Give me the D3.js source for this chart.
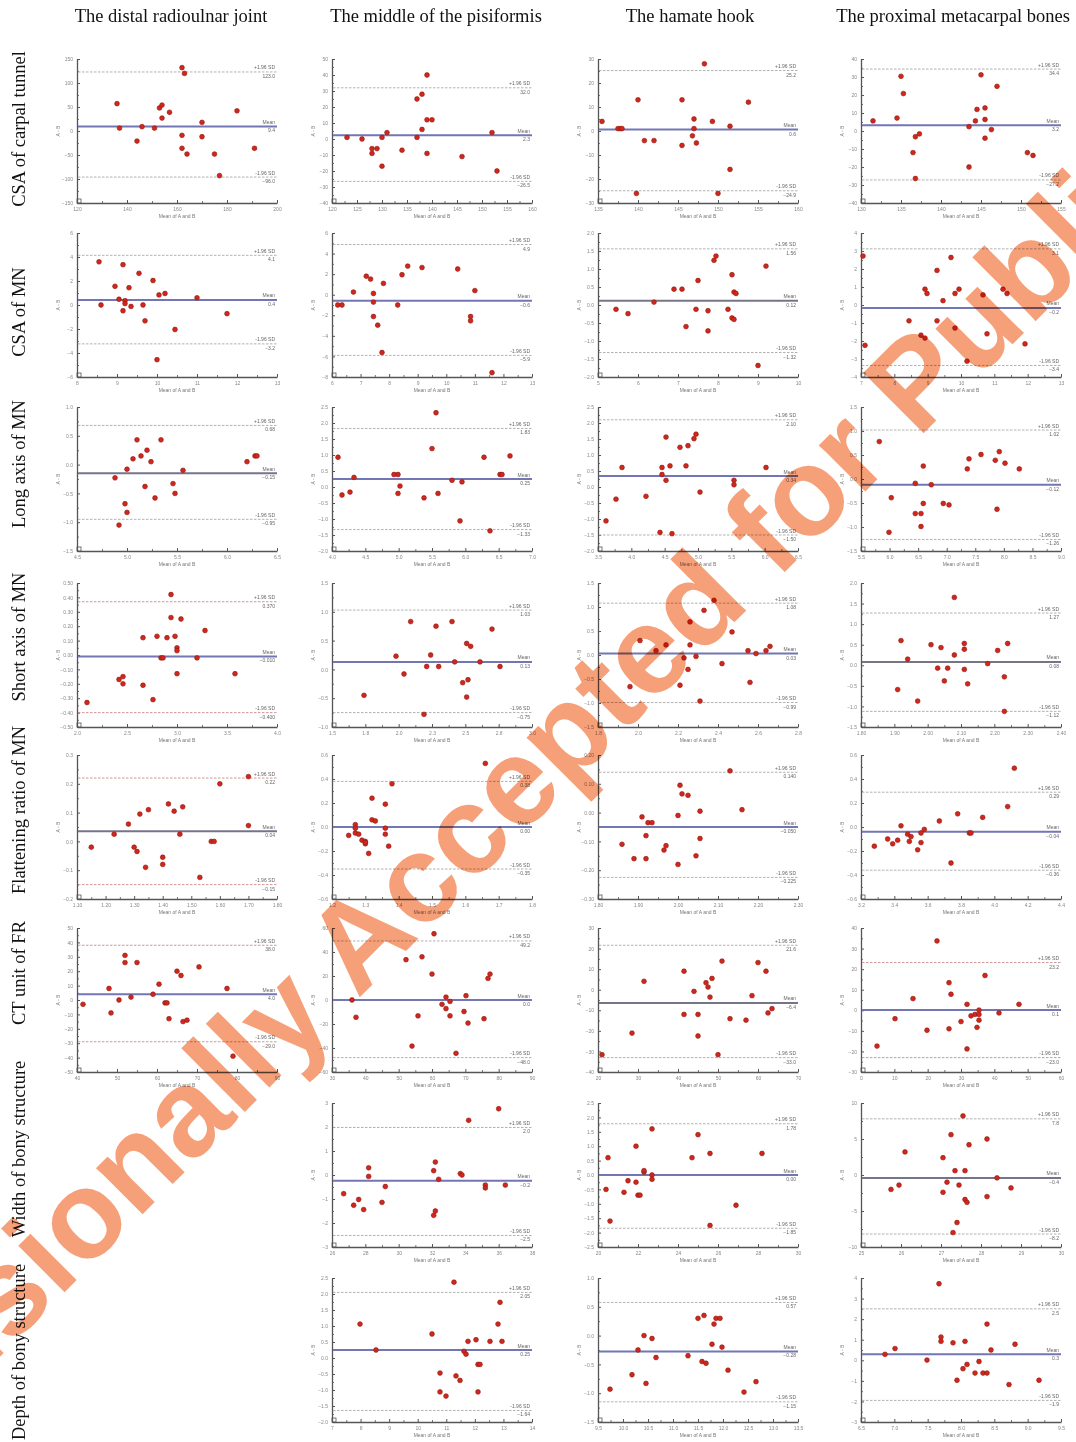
<!DOCTYPE html>
<html>
<head>
<meta charset="utf-8">
<script src="https://cdn.jsdelivr.net/npm/d3@7"></script>
<style>
body { margin: 0; background: #fff; }
svg { display: block; }
.ax text { font-family: "Liberation Sans", Arial, sans-serif; font-size: 5px; fill: #888; }
.ax path, .ax line { stroke: #555; }
.minor line { stroke: #777; }
</style>
</head>
<body>
<div id="fig"></div>
<script>
// column / row headings
var colTitles = ["The distal radioulnar joint", "The middle of the pisiformis", "The hamate hook", "The proximal metacarpal bones"];
var rowLabels = ["CSA of carpal tunnel", "CSA of MN", "Long axis of MN", "Short axis of MN",
    "Flattening ratio of MN", "CT unit of FR", "Width of bony structure", "Depth of bony structure"];

// Bland-Altman points: [mean of A and B, A - B]; limits: [+1.96 SD, mean, -1.96 SD]
var ct_druj = [[136,57],[137,6],[144,-21],[146,9],[151,6],[153,48],[154,54],[154,27],[157,39],[162,132],[163,120],[162,-9],[162,-36],[164,-48],[170,18],[170,-12],[175,-48],[177,-93],[184,42],[191,-36]],
    ct_druj_xt = [120,140,160,180,200], ct_druj_yt = [-150,-100,-50,0,50,100,150], ct_druj_loa = [123,9.4,-96];
var ct_pis = [[123,1],[126,0],[128,-6],[128,-9],[129,-6],[130,1],[130,-17],[131,4],[134,-7],[137,1],[137,25],[138,6],[138,28],[139,40],[139,12],[140,12],[139,-9],[146,-11],[152,4],[153,-20]],
    ct_pis_xt = [120,125,130,135,140,145,150,155,160], ct_pis_yt = [-40,-30,-20,-10,0,10,20,30,40,50], ct_pis_loa = [32,2.3,-26.5];
var ct_ham = [[135.5,4],[137.5,1],[137.8,1],[138,1],[140,13],[140.8,-4],[142,-4],[139.8,-26],[145.5,13],[145.5,-6],[147,5],[147,1],[146.8,-2],[147.3,-5],[148.3,28],[149.3,4],[150,-26],[151.5,2],[151.5,-16],[153.8,12]],
    ct_ham_xt = [135,140,145,150,155,160], ct_ham_yt = [-30,-20,-10,0,10,20,30], ct_ham_loa = [25.2,0.6,-24.9];
var ct_met = [[131.5,5.6],[134.5,7.2],[135,30.4],[135.3,20.8],[136.8,-3.2],[137.3,-1.6],[136.5,-12],[136.8,-26.4],[143.5,2.4],[143.5,-20],[144.3,5.6],[144.5,12],[145,31.2],[145.5,12.8],[145.5,6.4],[145.5,-4],[146.3,0.8],[147,24.8],[150.8,-12],[151.5,-13.6]],
    ct_met_xt = [130,135,140,145,150,155], ct_met_yt = [-40,-30,-20,-10,0,10,20,30,40], ct_met_loa = [34.4,3.2,-27.2];

var csa_druj = [[8.55,3.6],[8.6,0],[8.95,1.56],[9.05,0.48],[9.15,3.36],[9.2,0.36],[9.2,0.12],[9.15,-0.48],[9.3,1.44],[9.35,-0.12],[9.55,2.64],[9.65,0],[9.7,-1.32],[9.9,2.04],[10,-4.56],[10.05,0.84],[10.2,0.96],[10.45,-2.04],[11,0.6],[11.75,-0.72]],
    csa_druj_xt = [8,9,10,11,12,13], csa_druj_yt = [-6,-4,-2,0,2,4,6], csa_druj_loa = [4.14,0.42,-3.24];
var csa_pis = [[6.2,-1],[6.35,-1],[6.75,0.26],[7.2,1.8],[7.35,1.52],[7.45,0.12],[7.45,-0.72],[7.45,-2.12],[7.6,-2.96],[7.75,-5.62],[7.8,1.1],[8.3,-1],[8.45,1.94],[8.65,2.78],[9.15,2.64],[10.4,2.5],[10.85,-2.12],[10.85,-2.54],[11,0.4],[11.6,-7.58]],
    csa_pis_xt = [6,7,8,9,10,11,12,13], csa_pis_yt = [-8,-6,-4,-2,0,2,4,6], csa_pis_loa = [4.88,-0.58,-5.9];
var csa_ham = [[5.45,-0.12],[5.75,-0.24],[6.4,0.08],[6.9,0.44],[7.1,0.44],[7.2,-0.6],[7.5,0.68],[7.45,-0.12],[7.75,-0.72],[7.75,-0.16],[7.9,1.24],[7.95,1.36],[8.25,-0.12],[8.35,0.84],[8.4,0.36],[8.45,0.32],[8.35,-0.36],[8.4,-0.4],[9,-1.68],[9.2,1.08]],
    csa_ham_xt = [5,6,7,8,9,10], csa_ham_yt = [-2,-1.5,-1,-0.5,0,0.5,1,1.5,2], csa_ham_loa = [1.56,0.12,-1.32];
var csa_met = [[7.06,2.72],[7.12,-2.24],[8.44,-0.88],[8.8,-1.68],[8.92,-1.84],[8.92,0.88],[8.98,0.64],[9.28,-0.88],[9.28,1.92],[9.46,0.24],[9.7,2.64],[9.82,0.64],[9.82,-1.28],[9.94,0.88],[10.18,-3.12],[10.66,0.56],[10.78,-1.6],[11.26,0.88],[11.38,0.64],[11.92,-2.16]],
    csa_met_xt = [7,8,9,10,11,12,13], csa_met_yt = [-4,-3,-2,-1,0,1,2,3,4], csa_met_loa = [3.12,-0.16,-3.36];

var lax_druj = [[4.88,-0.23],[4.92,-1.05],[4.98,-0.68],[5,-0.83],[5,-0.08],[5.06,0.1],[5.1,0.43],[5.14,0.15],[5.18,-0.38],[5.2,0.25],[5.24,0.05],[5.28,-0.58],[5.34,0.43],[5.46,-0.33],[5.48,-0.5],[5.56,-0.1],[6.2,0.05],[6.28,0.15],[6.3,0.15]],
    lax_druj_xt = [4.5,5,5.5,6,6.5], lax_druj_yt = [-1.5,-1,-0.5,0,0.5,1], lax_druj_loa = [0.68,-0.15,-0.95];
var lax_pis = [[4.09,0.93],[4.15,-0.25],[4.27,-0.16],[4.33,0.3],[4.93,0.39],[4.99,0.39],[5.02,0.03],[4.99,-0.2],[5.38,-0.34],[5.5,1.2],[5.56,2.32],[5.59,-0.2],[5.8,0.21],[5.92,-1.06],[5.95,0.16],[6.28,0.93],[6.37,-1.37],[6.52,0.39],[6.55,0.39],[6.67,0.97]],
    lax_pis_xt = [4,4.5,5,5.5,6,6.5,7], lax_pis_yt = [-2,-1.5,-1,-0.5,0,0.5,1,1.5,2,2.5], lax_pis_loa = [1.83,0.25,-1.33];
var lax_ham = [[3.62,-1.06],[3.77,-0.38],[3.86,0.61],[4.22,-0.29],[4.43,-1.42],[4.46,0.39],[4.46,0.61],[4.52,1.56],[4.52,0.21],[4.58,0.66],[4.61,-1.46],[4.73,1.24],[4.82,0.66],[4.85,1.29],[4.94,1.51],[4.97,1.65],[5.03,-0.16],[5.54,0.21],[5.54,0.07],[6.02,0.61]],
    lax_ham_xt = [3.5,4,4.5,5,5.5,6,6.5], lax_ham_yt = [-2,-1.5,-1,-0.5,0,0.5,1,1.5,2,2.5], lax_ham_loa = [2.1,0.34,-1.5];
var lax_met = [[5.82,0.78],[6.03,-0.39],[5.99,-1.11],[6.45,-0.09],[6.45,-0.72],[6.55,-0.72],[6.55,-0.99],[6.59,-0.51],[6.59,0.27],[6.73,-0.12],[6.94,-0.51],[7.04,-0.54],[7.36,0.21],[7.39,0.42],[7.6,0.51],[7.85,0.39],[7.92,0.57],[7.88,-0.63],[8.02,0.33],[8.27,0.21]],
    lax_met_xt = [5.5,6,6.5,7,7.5,8,8.5,9], lax_met_yt = [-1.5,-1,-0.5,0,0.5,1,1.5], lax_met_loa = [1.02,-0.12,-1.26];

var sax_druj = [[2.1,-0.33],[2.42,-0.17],[2.46,-0.15],[2.46,-0.2],[2.66,0.12],[2.66,-0.21],[2.76,-0.31],[2.8,0.13],[2.84,-0.02],[2.86,-0.02],[2.94,0.42],[2.9,0.12],[2.94,0.26],[2.98,0.13],[3,0.05],[3,-0.13],[3,0.03],[3.04,0.25],[3.2,-0.02],[3.28,0.17],[3.58,-0.13]],
    sax_druj_xt = [2,2.5,3,3.5,4], sax_druj_yt = [-0.5,-0.4,-0.3,-0.2,-0.1,0,0.1,0.2,0.3,0.4,0.5], sax_druj_loa = [0.37,-0.01,-0.4];
var sax_pis = [[1.74,-0.45],[1.98,0.23],[2.04,-0.08],[2.09,0.83],[2.21,0.05],[2.24,0.25],[2.28,0.75],[2.3,0.05],[2.19,-0.78],[2.4,0.83],[2.42,0.13],[2.48,-0.23],[2.51,-0.48],[2.52,-0.18],[2.51,0.45],[2.54,0.4],[2.61,0.13],[2.7,0.7],[2.76,0.05]],
    sax_pis_xt = [1.5,1.75,2,2.25,2.5,2.75,3], sax_pis_yt = [-1,-0.5,0,0.5,1,1.5], sax_pis_loa = [1.03,0.13,-0.75];
var sax_ham = [[1.96,-0.66],[2.01,0.3],[2.09,0.09],[2.14,0.21],[2.21,-0.63],[2.23,-0.06],[2.26,0.69],[2.26,0.21],[2.25,-0.3],[2.29,-0.03],[2.31,-0.96],[2.33,0.93],[2.38,1.14],[2.42,-0.18],[2.47,0.48],[2.55,0.09],[2.56,-0.57],[2.59,0.03],[2.64,0.09],[2.66,0.18]],
    sax_ham_xt = [1.8,2,2.2,2.4,2.6,2.8], sax_ham_yt = [-1.5,-1,-0.5,0,0.5,1,1.5], sax_ham_loa = [1.08,0.03,-0.99];
var sax_met = [[1.91,-0.59],[1.92,0.6],[1.94,0.15],[1.97,-0.87],[2.01,0.5],[2.03,-0.07],[2.04,0.43],[2.05,-0.38],[2.06,-0.07],[2.08,0.25],[2.08,1.65],[2.11,0.53],[2.11,-0.1],[2.11,0.39],[2.12,-0.45],[2.18,0.04],[2.21,0.36],[2.23,-0.28],[2.23,-1.12],[2.24,0.53]],
    sax_met_xt = [1.8,1.9,2,2.1,2.2,2.3,2.4], sax_met_yt = [-1.5,-1,-0.5,0,0.5,1,1.5,2], sax_met_loa = [1.27,0.08,-1.12];

var fr_druj = [[1.15,-0.02],[1.23,0.025],[1.28,0.06],[1.3,-0.02],[1.31,-0.035],[1.32,0.095],[1.34,-0.09],[1.35,0.11],[1.4,-0.055],[1.4,-0.08],[1.42,0.13],[1.44,0.105],[1.46,0.025],[1.47,0.12],[1.53,-0.125],[1.57,0],[1.58,0],[1.6,0.2],[1.7,0.225],[1.7,0.055]],
    fr_druj_xt = [1.1,1.2,1.3,1.4,1.5,1.6,1.7,1.8], fr_druj_yt = [-0.2,-0.1,0,0.1,0.2,0.3], fr_druj_loa = [0.22,0.035,-0.15];
var fr_pis = [[1.66,0.53],[1.38,0.36],[1.32,0.24],[1.36,0.19],[1.32,0.06],[1.33,0.05],[1.36,-0.01],[1.27,0.02],[1.27,-0.01],[1.25,-0.07],[1.27,-0.05],[1.28,-0.06],[1.29,-0.11],[1.3,-0.12],[1.3,-0.14],[1.31,-0.22],[1.36,-0.06],[1.37,-0.16],[1.3,-0.13]],
    fr_pis_xt = [1.2,1.3,1.4,1.5,1.6,1.7,1.8], fr_pis_yt = [-0.6,-0.4,-0.2,0,0.2,0.4,0.6], fr_pis_loa = [0.38,0,-0.35];
var fr_ham = [[1.86,-0.11],[1.89,-0.16],[1.91,-0.015],[1.92,-0.16],[1.92,-0.08],[1.925,-0.035],[1.935,-0.035],[1.965,-0.13],[1.97,-0.115],[2,-0.01],[2,-0.18],[2.005,0.095],[2.01,0.065],[2.025,0.06],[2.045,-0.15],[2.055,0.005],[2.055,-0.09],[2.13,0.145],[2.16,0.01]],
    fr_ham_xt = [1.8,1.9,2,2.1,2.2,2.3], fr_ham_yt = [-0.3,-0.2,-0.1,0,0.1,0.2], fr_ham_loa = [0.14,-0.05,-0.225];
var fr_met = [[3.28,-0.16],[3.36,-0.1],[3.39,-0.14],[3.42,-0.11],[3.44,0.01],[3.48,-0.06],[3.49,-0.12],[3.5,-0.08],[3.54,-0.19],[3.56,-0.05],[3.56,-0.13],[3.58,-0.02],[3.67,0.05],[3.74,-0.3],[3.78,0.11],[3.85,-0.05],[3.86,-0.05],[3.93,0.08],[4.08,0.17],[4.12,0.49]],
    fr_met_xt = [3.2,3.4,3.6,3.8,4,4.2,4.4], fr_met_yt = [-0.6,-0.4,-0.2,0,0.2,0.4,0.6], fr_met_loa = [0.29,-0.04,-0.36];

var hu_druj = [[41.5,-3],[48,8],[48.5,-9],[50.5,0],[52,31],[52,26],[53.5,2],[55,26],[59,4],[60.5,11],[62,-2],[62.5,-2],[63,-13],[65,20],[66,17],[66.5,-15],[67.5,-14],[70.5,23],[77.5,8],[79,-39]],
    hu_druj_xt = [40,50,60,70,80,90], hu_druj_yt = [-50,-40,-30,-20,-10,0,10,20,30,40,50], hu_druj_loa = [38,4,-29];
var hu_pis = [[36,0],[37.2,-14.4],[52.2,33.6],[54,-38.4],[55.8,-13.2],[57,36],[60,21.6],[60.6,55.2],[63,-3.6],[64.2,-7.2],[64.2,2.4],[65.4,-13.2],[65.4,-1.2],[67.2,-44.4],[69.6,-9.6],[70.2,3.6],[70.8,-19.2],[75.6,-15.6],[76.8,18],[77.4,21.6]],
    hu_pis_xt = [30,40,50,60,70,80,90], hu_pis_yt = [-60,-40,-20,0,20,40,60], hu_pis_loa = [49.2,0,-48];
var hu_ham = [[21,-31.6],[28.5,-21.1],[31.5,4.1],[41.5,-12],[41.5,9],[44,-0.8],[45,-12],[47,3.4],[47.5,1.3],[48,-3.6],[48.5,5.5],[50,-31.6],[51,13.9],[53,-14.1],[57,-14.8],[58.5,-2.9],[60,13.2],[62,9],[62.5,-11.3],[63.5,-9.2],[45,-22.5]],
    hu_ham_xt = [20,30,40,50,60,70], hu_ham_yt = [-40,-30,-20,-10,0,10,20,30], hu_ham_loa = [21.6,-6.4,-33];
var hu_met = [[4.8,-17.4],[10.2,-4.1],[15.6,5.7],[19.8,-9.7],[22.8,33.7],[26.4,13.4],[27,7.8],[26.4,-9],[30,-5.5],[31.8,2.9],[31.8,-18.8],[33,-2.7],[34.2,-2],[34.8,-8.3],[35.4,0.1],[35.4,-4.8],[37.2,16.9],[41.4,-1.3],[47.4,2.9],[35.4,-2]],
    hu_met_xt = [0,10,20,30,40,50,60], hu_met_yt = [-30,-20,-10,0,10,20,30,40], hu_met_loa = [23.2,0.1,-23];

var wid_pis = [[26.7,-0.78],[27.3,-1.26],[27.6,-1.02],[27.9,-1.44],[28.2,-0.06],[28.2,0.3],[29,-1.14],[29.2,-0.48],[32.1,0.18],[32.2,0.54],[32.1,-1.68],[32.2,-1.5],[32.4,-0.18],[33.7,0.06],[33.8,0],[34.2,2.28],[35.2,-0.42],[35.2,-0.54],[36,2.76],[36.4,-0.42]],
    wid_pis_xt = [26,28,30,32,34,36,38], wid_pis_yt = [-3,-2,-1,0,1,2,3], wid_pis_loa = [1.98,-0.24,-2.52];
var wid_ham = [[20.4,-0.5],[20.5,0.6],[20.6,-1.6],[21.3,-0.6],[21.5,-0.2],[21.9,-0.25],[21.9,1],[22,-0.7],[22.1,-0.7],[22.3,0.1],[22.3,0.15],[22.7,1.6],[22.7,0],[22.7,-0.15],[24.7,0.6],[25,1.4],[25.6,0.75],[25.6,-1.75],[26.9,-1.05],[28.2,0.75]],
    wid_ham_xt = [20,22,24,26,28,30], wid_ham_yt = [-2.5,-2,-1.5,-1,-0.5,0,0.5,1,1.5,2,2.5], wid_ham_loa = [1.78,0,-1.85];
var wid_met = [[25.75,-2],[25.95,-1.4],[26.1,3.2],[27.05,-2.4],[27.05,2.4],[27.15,-1],[27.25,5.6],[27.3,-8],[27.35,0.6],[27.4,-6.6],[27.45,-1.4],[27.55,8.2],[27.6,0.6],[27.6,-3.4],[27.65,-3.8],[27.7,4.2],[28.15,-3],[28.15,5],[28.4,-0.4],[28.75,-1.8]],
    wid_met_xt = [25,26,27,28,29,30], wid_met_yt = [-10,-5,0,5,10], wid_met_loa = [7.8,-0.4,-8.2];

var dep_pis = [[7.98,1.06],[8.54,0.25],[10.5,0.75],[10.78,-0.47],[10.78,-1.06],[10.99,-1.19],[11.27,2.37],[11.34,-0.56],[11.48,-0.7],[11.62,0.21],[11.69,0.12],[11.76,0.52],[12.04,0.57],[12.11,-1.06],[12.11,-0.2],[12.18,-0.2],[12.53,0.52],[12.81,1.06],[12.88,1.74],[12.95,0.52]],
    dep_pis_xt = [7,8,9,10,11,12,13,14], dep_pis_yt = [-2,-1.5,-1,-0.5,0,0.5,1,1.5,2,2.5], dep_pis_loa = [2.05,0.25,-1.64];
var dep_ham = [[9.74,-0.93],[10.18,-0.68],[10.3,-0.25],[10.42,0],[10.46,-0.83],[10.58,-0.05],[10.66,-0.38],[11.3,-0.35],[11.5,0.3],[11.58,-0.45],[11.62,0.35],[11.66,-0.48],[11.82,0.2],[11.86,0.3],[11.94,0.3],[11.78,-0.15],[11.98,-0.2],[12.1,-0.6],[12.42,-0.98],[12.66,-0.8]],
    dep_ham_xt = [9.5,10,10.5,11,11.5,12,12.5,13,13.5], dep_ham_yt = [-1.5,-1,-0.5,0,0.5,1], dep_ham_loa = [0.575,-0.275,-1.15];
var dep_met = [[6.86,0.29],[7.01,0.57],[7.49,0.01],[7.67,3.72],[7.7,0.92],[7.7,1.13],[7.88,0.85],[7.94,-0.97],[8.03,-0.41],[8.06,0.92],[8.09,-0.2],[8.21,-0.62],[8.27,-0.06],[8.33,-0.62],[8.39,-0.62],[8.39,1.76],[8.45,0.5],[8.72,-1.18],[8.81,0.78],[9.17,-0.97]],
    dep_met_xt = [6.5,7,7.5,8,8.5,9,9.5], dep_met_yt = [-3,-2,-1,0,1,2,3,4], dep_met_loa = [2.5,0.29,-1.95];

// panels whose mean line is grey, and whose limit lines are reddish
var greyMean = ["csa_ham", "lax_druj", "sax_met", "fr_druj", "hu_ham", "wid_met"];
var redLimits = ["sax_druj", "fr_druj", "hu_druj", "hu_met"];

var widthFull = 1076, heightFull = 1442,
    colX = [77, 332, 598, 861],
    rowY = [59, 233, 407, 583, 755, 928, 1103, 1278],
    titleX = [171, 436, 690, 953],
    labelY = [129, 312, 464, 637, 810, 973, 1149, 1352],
    plotW = 200, plotH = 144;

var panels = [
    {id: "ct_druj", r: 0, c: 0, pts: ct_druj, xt: ct_druj_xt, yt: ct_druj_yt, loa: ct_druj_loa},
    {id: "ct_pis", r: 0, c: 1, pts: ct_pis, xt: ct_pis_xt, yt: ct_pis_yt, loa: ct_pis_loa},
    {id: "ct_ham", r: 0, c: 2, pts: ct_ham, xt: ct_ham_xt, yt: ct_ham_yt, loa: ct_ham_loa},
    {id: "ct_met", r: 0, c: 3, pts: ct_met, xt: ct_met_xt, yt: ct_met_yt, loa: ct_met_loa},
    {id: "csa_druj", r: 1, c: 0, pts: csa_druj, xt: csa_druj_xt, yt: csa_druj_yt, loa: csa_druj_loa},
    {id: "csa_pis", r: 1, c: 1, pts: csa_pis, xt: csa_pis_xt, yt: csa_pis_yt, loa: csa_pis_loa},
    {id: "csa_ham", r: 1, c: 2, pts: csa_ham, xt: csa_ham_xt, yt: csa_ham_yt, loa: csa_ham_loa},
    {id: "csa_met", r: 1, c: 3, pts: csa_met, xt: csa_met_xt, yt: csa_met_yt, loa: csa_met_loa},
    {id: "lax_druj", r: 2, c: 0, pts: lax_druj, xt: lax_druj_xt, yt: lax_druj_yt, loa: lax_druj_loa},
    {id: "lax_pis", r: 2, c: 1, pts: lax_pis, xt: lax_pis_xt, yt: lax_pis_yt, loa: lax_pis_loa},
    {id: "lax_ham", r: 2, c: 2, pts: lax_ham, xt: lax_ham_xt, yt: lax_ham_yt, loa: lax_ham_loa},
    {id: "lax_met", r: 2, c: 3, pts: lax_met, xt: lax_met_xt, yt: lax_met_yt, loa: lax_met_loa},
    {id: "sax_druj", r: 3, c: 0, pts: sax_druj, xt: sax_druj_xt, yt: sax_druj_yt, loa: sax_druj_loa},
    {id: "sax_pis", r: 3, c: 1, pts: sax_pis, xt: sax_pis_xt, yt: sax_pis_yt, loa: sax_pis_loa},
    {id: "sax_ham", r: 3, c: 2, pts: sax_ham, xt: sax_ham_xt, yt: sax_ham_yt, loa: sax_ham_loa},
    {id: "sax_met", r: 3, c: 3, pts: sax_met, xt: sax_met_xt, yt: sax_met_yt, loa: sax_met_loa},
    {id: "fr_druj", r: 4, c: 0, pts: fr_druj, xt: fr_druj_xt, yt: fr_druj_yt, loa: fr_druj_loa},
    {id: "fr_pis", r: 4, c: 1, pts: fr_pis, xt: fr_pis_xt, yt: fr_pis_yt, loa: fr_pis_loa},
    {id: "fr_ham", r: 4, c: 2, pts: fr_ham, xt: fr_ham_xt, yt: fr_ham_yt, loa: fr_ham_loa},
    {id: "fr_met", r: 4, c: 3, pts: fr_met, xt: fr_met_xt, yt: fr_met_yt, loa: fr_met_loa},
    {id: "hu_druj", r: 5, c: 0, pts: hu_druj, xt: hu_druj_xt, yt: hu_druj_yt, loa: hu_druj_loa},
    {id: "hu_pis", r: 5, c: 1, pts: hu_pis, xt: hu_pis_xt, yt: hu_pis_yt, loa: hu_pis_loa},
    {id: "hu_ham", r: 5, c: 2, pts: hu_ham, xt: hu_ham_xt, yt: hu_ham_yt, loa: hu_ham_loa},
    {id: "hu_met", r: 5, c: 3, pts: hu_met, xt: hu_met_xt, yt: hu_met_yt, loa: hu_met_loa},
    {id: "wid_pis", r: 6, c: 1, pts: wid_pis, xt: wid_pis_xt, yt: wid_pis_yt, loa: wid_pis_loa},
    {id: "wid_ham", r: 6, c: 2, pts: wid_ham, xt: wid_ham_xt, yt: wid_ham_yt, loa: wid_ham_loa},
    {id: "wid_met", r: 6, c: 3, pts: wid_met, xt: wid_met_xt, yt: wid_met_yt, loa: wid_met_loa},
    {id: "dep_pis", r: 7, c: 1, pts: dep_pis, xt: dep_pis_xt, yt: dep_pis_yt, loa: dep_pis_loa},
    {id: "dep_ham", r: 7, c: 2, pts: dep_ham, xt: dep_ham_xt, yt: dep_ham_yt, loa: dep_ham_loa},
    {id: "dep_met", r: 7, c: 3, pts: dep_met, xt: dep_met_xt, yt: dep_met_yt, loa: dep_met_loa}
];

var svg = d3.select("#fig")
        .append("svg")
        .attr("width", widthFull)
        .attr("height", heightFull);

// headings
svg.selectAll(".col-title")
    .data(colTitles)
    .enter().append("text")
    .attr("class", "col-title")
    .attr("x", function(d, i) { return titleX[i]; })
    .attr("y", 22)
    .attr("text-anchor", "middle")
    .style("font-family", "'Liberation Serif', 'Times New Roman', serif")
    .style("font-size", "18.5px")
    .attr("fill", "#111")
    .text(function(d) { return d; });
svg.selectAll(".row-label")
    .data(rowLabels)
    .enter().append("text")
    .attr("class", "row-label")
    .attr("transform", function(d, i) { return "translate(25," + labelY[i] + ") rotate(-90)"; })
    .attr("text-anchor", "middle")
    .style("font-family", "'Liberation Serif', 'Times New Roman', serif")
    .style("font-size", "18.5px")
    .attr("fill", "#111")
    .text(function(d) { return d; });

function midpoints(arr) {
    return d3.pairs(arr).map(function(p) { return (p[0] + p[1]) / 2; });
}

function drawPanel(p) {
    var g = svg.append("g")
            .attr("transform", "translate(" + colX[p.c] + "," + rowY[p.r] + ")");
    var x = d3.scaleLinear().domain(d3.extent(p.xt)).range([0, plotW]),
        y = d3.scaleLinear().domain(d3.extent(p.yt)).range([plotH, 0]);
    var fx = d3.format("." + d3.precisionFixed(p.xt[1] - p.xt[0]) + "f"),
        fy = d3.format("." + d3.precisionFixed(p.yt[1] - p.yt[0]) + "f"),
        fv = d3.format("." + (d3.precisionFixed(p.yt[1] - p.yt[0]) + 1) + "f");

    // minor ticks
    g.append("g").attr("class", "ax minor")
        .attr("transform", "translate(0," + plotH + ")")
        .call(d3.axisBottom(x).tickValues(midpoints(p.xt)).tickSize(-2).tickFormat(""))
        .select(".domain").remove();
    g.append("g").attr("class", "ax minor")
        .call(d3.axisLeft(y).tickValues(midpoints(p.yt)).tickSize(-2).tickFormat(""))
        .select(".domain").remove();
    // axes
    g.append("g").attr("class", "ax")
        .attr("transform", "translate(0," + plotH + ")")
        .call(d3.axisBottom(x).tickValues(p.xt).tickSize(-3).tickSizeOuter(0).tickPadding(4).tickFormat(fx));
    g.append("g").attr("class", "ax")
        .call(d3.axisLeft(y).tickValues(p.yt).tickSize(-3).tickSizeOuter(0).tickPadding(4).tickFormat(fy));
    g.selectAll(".ax .domain").attr("stroke-width", 1.3);
    g.append("rect")
        .attr("x", 0).attr("y", plotH - 4)
        .attr("width", 4).attr("height", 4)
        .attr("fill", "none").attr("stroke", "#555").attr("stroke-width", 0.8);

    // axis titles
    g.append("text")
        .attr("transform", "translate(-17," + (plotH / 2) + ") rotate(-90)")
        .attr("text-anchor", "middle")
        .style("font-family", "'Liberation Sans', Arial, sans-serif")
        .style("font-size", "5px")
        .attr("fill", "#777")
        .text("A - B");
    g.append("text")
        .attr("x", plotW / 2).attr("y", plotH + 15)
        .attr("text-anchor", "middle")
        .style("font-family", "'Liberation Sans', Arial, sans-serif")
        .style("font-size", "5px")
        .attr("fill", "#777")
        .text("Mean of A and B");

    // mean and limits of agreement
    var refs = [
        {v: p.loa[0], name: "+1.96 SD", mean: false},
        {v: p.loa[1], name: "Mean", mean: true},
        {v: p.loa[2], name: "-1.96 SD", mean: false}
    ];
    var limitColor = redLimits.indexOf(p.id) >= 0 ? "#c98a8a" : "#a8a8a8",
        meanColor = greyMean.indexOf(p.id) >= 0 ? "#75758a" : "#7276b4";
    g.selectAll(".ref")
        .data(refs)
        .enter().append("line")
        .attr("class", "ref")
        .attr("x1", 1).attr("x2", plotW)
        .attr("y1", function(d) { return y(d.v); })
        .attr("y2", function(d) { return y(d.v); })
        .attr("stroke", function(d) { return d.mean ? meanColor : limitColor; })
        .attr("stroke-width", function(d) { return d.mean ? 2 : 0.9; })
        .attr("stroke-dasharray", function(d) { return d.mean ? null : "2.5,1.5"; });
    var lab = g.selectAll(".ref-label")
        .data(refs)
        .enter().append("g")
        .attr("class", "ref-label")
        .attr("transform", function(d) { return "translate(" + (plotW - 2) + "," + y(d.v) + ")"; })
        .style("font-family", "'Liberation Sans', Arial, sans-serif")
        .style("font-size", "5px")
        .attr("fill", "#666")
        .attr("text-anchor", "end");
    lab.append("text").attr("y", -2.5).text(function(d) { return d.name; });
    lab.append("text").attr("y", 6).text(function(d) { return fv(d.v); });

    // points
    g.selectAll(".pt")
        .data(p.pts)
        .enter().append("circle")
        .attr("class", "pt")
        .attr("cx", function(d) { return x(d[0]); })
        .attr("cy", function(d) { return y(d[1]); })
        .attr("r", 2.4)
        .attr("fill", "#d1261b")
        .attr("stroke", "#8e1a12")
        .attr("stroke-width", 0.6);
}
panels.forEach(drawPanel);

// watermark
svg.append("text")
    .attr("transform", "translate(560,736) rotate(-45)")
    .attr("text-anchor", "middle")
    .attr("dominant-baseline", "central")
    .style("font-family", "'Liberation Sans', Arial, sans-serif")
    .style("font-weight", "bold")
    .style("font-size", "124px")
    .style("mix-blend-mode", "multiply")
    .attr("fill", "#f5966a")
    .attr("fill-opacity", 0.9)
    .text("Provisionally Accepted for Publication");
</script>
</body>
</html>
